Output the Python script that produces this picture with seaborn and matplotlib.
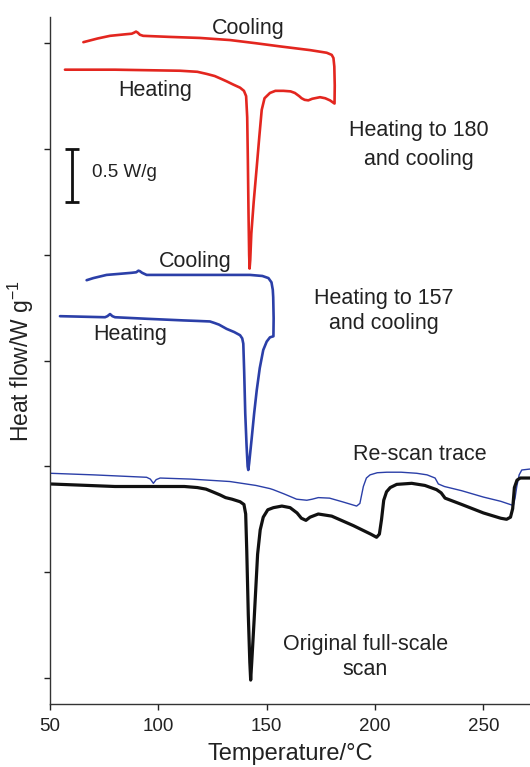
import numpy as np
import pandas as pd
import matplotlib
matplotlib.use("Agg")
import matplotlib.pyplot as plt
import seaborn as sns

# ---------------- data ----------------
# Heating to 180 °C and cooling (red)
red_T = [56.9, 80, 110, 118, 122.3, 126, 128.8, 131.5, 134.5, 137.7, 139.5, 140.5, 141.0,
         141.3, 141.6, 141.9, 142.1, 142.4, 142.9, 144, 145.4, 146.6, 147.7, 149, 151.5, 154,
         157.7, 161, 163, 165, 166.1, 167.5, 169.2, 171, 174.6, 177, 179.2, 181.3,
         181.4, 181.2, 180.8, 180, 177.7, 170, 156.2, 145, 133.1, 119.2, 105, 93, 91.5,
         90.5, 89.7, 88.8, 87.7, 85, 77.7, 72, 65.4]
red_v = [5.75, 5.75, 5.74, 5.73, 5.71, 5.69, 5.665, 5.64, 5.61, 5.58, 5.55, 5.50, 5.30,
         4.90, 4.40, 4.00, 3.87, 3.95, 4.20, 4.50, 4.83, 5.12, 5.37, 5.48, 5.53, 5.55,
         5.55, 5.545, 5.53, 5.50, 5.48, 5.465, 5.46, 5.475, 5.49, 5.48, 5.46, 5.43,
         5.60, 5.78, 5.86, 5.89, 5.91, 5.935, 5.97, 6.00, 6.03, 6.05, 6.06, 6.07, 6.08,
         6.10, 6.11, 6.10, 6.09, 6.085, 6.07, 6.045, 6.01]

# Heating to 157 °C and cooling (blue)
blue_T = [54.6, 65, 75.4, 76.5, 77.7, 78.8, 80, 95, 111.5, 118, 123.8, 126, 128, 131.5, 135,
          137.7, 138.7, 139.2, 139.6, 140.1, 140.7, 141.2, 141.5, 141.9, 143, 144.2, 145.4,
          146.8, 148.4, 150, 151.5, 153.1,
          153.2, 153.0, 152.8, 152.2, 150.8, 148, 142.3, 120, 100, 94.6, 92.5, 91.5, 90.8,
          89.8, 87.7, 82, 76.1, 70, 66.9]
blue_v = [3.42, 3.415, 3.41, 3.42, 3.44, 3.42, 3.41, 3.395, 3.38, 3.375, 3.37, 3.355, 3.34,
          3.30, 3.27, 3.24, 3.21, 3.16, 2.90, 2.50, 2.20, 2.00, 1.966, 2.03, 2.25, 2.50,
          2.72, 2.93, 3.10, 3.18, 3.22, 3.23,
          3.40, 3.60, 3.67, 3.74, 3.78, 3.80, 3.81, 3.81, 3.81, 3.81, 3.83, 3.845, 3.85,
          3.835, 3.83, 3.82, 3.81, 3.78, 3.76]

# Original full-scale scan (black)
orig_T = [50, 80, 112, 118, 122, 125, 128.5, 131, 134, 137.7, 139.5, 140.3, 140.8, 141.5,
          142.2, 142.6, 143.1, 144.2, 145.8, 147, 148.4, 150.5, 153.1, 157, 160.8, 164, 166,
          168.1, 170, 173.8, 180, 190, 198, 200.7, 202, 203, 204, 205.3, 207, 210, 216.9,
          223, 228.4, 230.5, 232.3, 240, 250, 258, 260.7, 262.5, 263.5, 264.3, 265.5, 267,
          271.5]
orig_v = [1.834, 1.81, 1.81, 1.80, 1.785, 1.76, 1.73, 1.705, 1.69, 1.666, 1.64, 1.55, 1.20,
          0.60, 0.15, -0.02, 0.15, 0.55, 1.17, 1.40, 1.52, 1.59, 1.61, 1.625, 1.61, 1.56,
          1.51, 1.49, 1.52, 1.55, 1.53, 1.44, 1.36, 1.33, 1.36, 1.50, 1.68, 1.76, 1.80, 1.83,
          1.84, 1.82, 1.78, 1.75, 1.70, 1.64, 1.56, 1.51, 1.50, 1.52, 1.60, 1.80, 1.87, 1.89,
          1.89]

# Re-scan trace (thin blue)
rescan_T = [50, 70, 94.6, 96.3, 97.7, 99, 100.8, 115, 133, 145, 151.5, 153, 158, 163.8,
            168.5, 171, 173.8, 179, 185, 191.5, 193, 194.6, 196, 197.7, 201, 205.4, 212,
            219.2, 224, 227.7, 229.2, 232, 240, 250, 258, 263.8, 264.6, 265.4, 266.5, 267.7,
            271.5]
rescan_v = [1.935, 1.92, 1.897, 1.88, 1.84, 1.875, 1.89, 1.88, 1.857, 1.82, 1.79, 1.78,
            1.74, 1.69, 1.68, 1.69, 1.705, 1.70, 1.665, 1.625, 1.65, 1.81, 1.89, 1.92, 1.94,
            1.945, 1.945, 1.935, 1.92, 1.89, 1.834, 1.81, 1.77, 1.71, 1.67, 1.63, 1.70, 1.81,
            1.92, 1.966, 1.975]

x_ticks = [50, 100, 150, 200, 250]
y_ticks = [0, 1, 2, 3, 4, 5, 6]
scale_bar_value = 0.5  # W/g

RED = "#e3261f"
BLUE = "#2b3fa8"
BLACK = "#111111"

# ---------------- figure ----------------
sns.set_theme(style="ticks")
plt.rcParams["font.family"] = ["Liberation Sans", "DejaVu Sans"]
plt.rcParams["mathtext.fontset"] = "custom"
plt.rcParams["mathtext.rm"] = "Liberation Sans"
plt.rcParams["mathtext.default"] = "regular"
plt.rcParams["lines.solid_joinstyle"] = "round"
plt.rcParams["lines.solid_capstyle"] = "round"

fig = plt.figure(figsize=(5.30, 7.67), dpi=100)
ax = fig.add_axes([50 / 530, 63 / 767, 480 / 530, 687 / 767])

def curve(T, v):
    return pd.DataFrame({"T": T, "v": v})

sns.lineplot(data=curve(rescan_T, rescan_v), x="T", y="v", sort=False, estimator=None,
             color=BLUE, lw=1.0, ax=ax)
sns.lineplot(data=curve(orig_T, orig_v), x="T", y="v", sort=False, estimator=None,
             color=BLACK, lw=2.3, ax=ax)
sns.lineplot(data=curve(blue_T, blue_v), x="T", y="v", sort=False, estimator=None,
             color=BLUE, lw=1.9, ax=ax)
sns.lineplot(data=curve(red_T, red_v), x="T", y="v", sort=False, estimator=None,
             color=RED, lw=1.9, ax=ax)

# scale bar
ax.errorbar([60.0], [5.0 - scale_bar_value / 2], yerr=[scale_bar_value / 2],
            fmt="none", ecolor=BLACK, elinewidth=2.0, capsize=5, capthick=2.0)
ax.text(69.4, 4.78, f"{scale_bar_value} W/g", fontsize=13.5, ha="left", va="center",
        color="#222222")

tk = dict(fontsize=15.5, color="#222222", ha="center", va="center")
ax.text(141.4, 6.14, "Cooling", **tk)
ax.text(98.5, 5.55, "Heating", **tk)
ax.text(220.3, 5.04, "Heating to 180\nand cooling", linespacing=1.5, **tk)
ax.text(116.9, 3.94, "Cooling", **tk)
ax.text(86.9, 3.25, "Heating", **tk)
ax.text(204.1, 3.47, "Heating to 157\nand cooling", linespacing=1.25, **tk)
ax.text(220.7, 2.11, "Re-scan trace", **tk)
ax.text(195.4, 0.20, "Original full-scale\nscan", linespacing=1.25, **tk)

ax.set_xlim(50, 271.5)
ax.set_ylim(-0.246, 6.248)
ax.set_xticks(x_ticks)
ax.set_yticks(y_ticks)
ax.set_yticklabels([])
ax.tick_params(axis="x", direction="out", length=4, width=1, labelsize=13.5, pad=6,
               colors="#222222")
ax.tick_params(axis="y", direction="out", length=4.5, width=1, colors="#222222")
sns.despine(ax=ax, top=True, right=True)
for s in ("left", "bottom"):
    ax.spines[s].set_linewidth(1.0)
    ax.spines[s].set_color("#333333")

ax.set_xlabel("Temperature/°C", fontsize=17, labelpad=6, color="#222222")
ax.set_ylabel("Heat flow/W g$^{-1}$", fontsize=16.5, labelpad=2, color="#222222")

fig.savefig("out.png", dpi=100)
